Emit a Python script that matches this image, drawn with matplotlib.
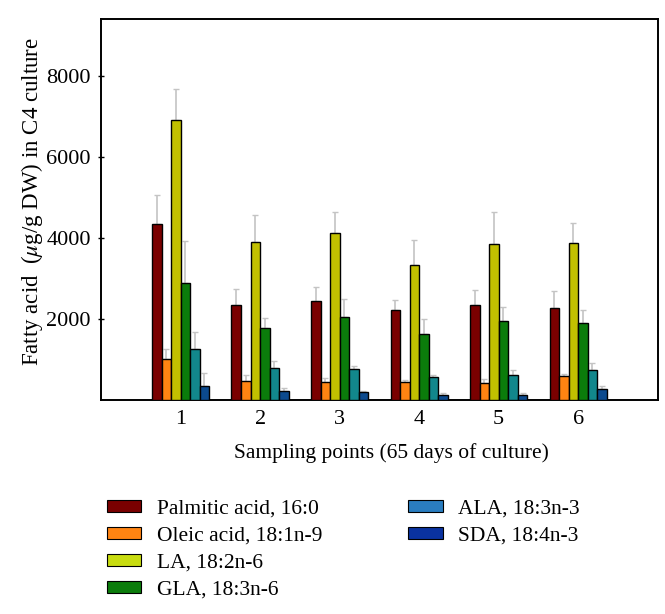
import matplotlib
matplotlib.use("Agg")
import matplotlib.pyplot as plt
import matplotlib.patches as mpatches
import numpy as np

plt.rcParams['font.family'] = ['Liberation Serif', 'DejaVu Serif']
plt.rcParams['mathtext.fontset'] = 'stix'

points = ['1', '2', '3', '4', '5', '6']
names = ['Palmitic acid, 16:0', 'Oleic acid, 18:1n-9', 'LA, 18:2n-6',
         'GLA, 18:3n-6', 'ALA, 18:3n-3', 'SDA, 18:4n-3']

palmitic = [4340, 2355, 2445, 2220, 2355, 2265]
oleic = [1010, 470, 455, 435, 420, 595]
la = [6910, 3895, 4115, 3335, 3850, 3875]
gla = [2890, 1785, 2040, 1620, 1940, 1910]
ala = [1265, 800, 755, 560, 625, 750]
sda = [355, 220, 190, 115, 130, 280]

palmitic_err = [720, 380, 355, 255, 355, 430]
oleic_err = [255, 140, 100, 60, 105, 50]
la_err = [760, 665, 520, 625, 800, 495]
gla_err = [1035, 240, 445, 370, 345, 320]
ala_err = [420, 155, 75, 57, 108, 170]
sda_err = [320, 66, 30, 58, 33, 75]

values = [palmitic, oleic, la, gla, ala, sda]
errors = [palmitic_err, oleic_err, la_err, gla_err, ala_err, sda_err]
bar_colors = ['#7a0000', '#ff8412', '#c2c000', '#0b7c0b', '#12878c', '#0c4a8e']
legend_colors = ['#7a0000', '#ff8412', '#c8dc10', '#0b7c0b', '#2a7dc0', '#0a32a0']

fig = plt.figure(figsize=(6.65, 6.14), dpi=100)
ax = fig.add_axes([0.152, 0.3485, 0.837, 0.6205])

x = np.arange(1, len(points) + 1)
w = 0.12
for i in range(len(values)):
    pos = x + (i - 2.5) * w
    ax.bar(pos, values[i], w, color=bar_colors[i], edgecolor='black', linewidth=1.0, zorder=3)
    ax.errorbar(pos, values[i], yerr=[np.zeros(len(points)), errors[i]], fmt='none',
                ecolor='#c4c4c4', elinewidth=1.2, capsize=2.2, capthick=1.0, zorder=2)

ax.set_xlim(0, 7)
ax.set_ylim(0, 9400)
ax.set_xticks(x)
ax.set_xticklabels(points)
ax.set_yticks([2000, 4000, 6000, 8000])
ax.tick_params(axis='x', length=0, pad=7, labelsize=16)
ax.tick_params(axis='y', direction='inout', length=5, width=1, pad=5, labelsize=16)
for s in ax.spines.values():
    s.set_linewidth(1.4)

ax.set_xlabel('Sampling points (65 days of culture)', fontsize=15.5)
ax.xaxis.set_label_coords(0.522, -0.113)
ax.set_ylabel(r'Fatty acid  ($\mu$g/g DW) in C4 culture', fontsize=16.5)
ax.yaxis.set_label_coords(-0.1, 0.522)

# 4 entries in the first column, 2 in the second
handles = [mpatches.Patch(facecolor=c, edgecolor='black', linewidth=0.8) for c in legend_colors]
blank = mpatches.Patch(visible=False)
fig.legend(handles + [blank, blank], names + ['', ''], loc='upper left',
           bbox_to_anchor=(0.161, 0.186), ncol=2,
           frameon=False, fontsize=15.5, handlelength=1.58, handleheight=0.47,
           handletextpad=0.74, labelspacing=0.37, columnspacing=4.0,
           borderpad=0, borderaxespad=0)

fig.savefig('out.png', dpi=100)
